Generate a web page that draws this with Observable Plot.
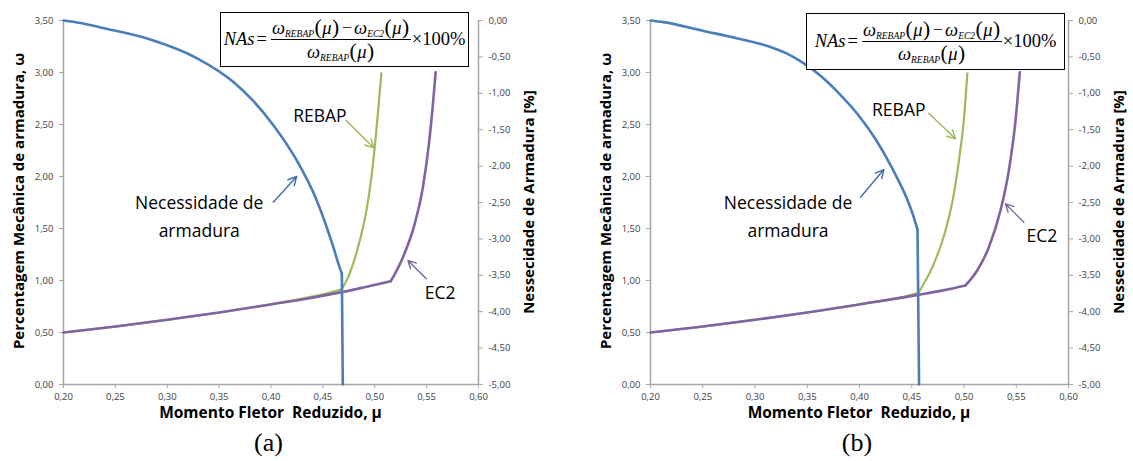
<!DOCTYPE html>
<html>
<head>
<meta charset="utf-8">
<script src="https://cdn.jsdelivr.net/npm/d3@7"></script>
<script src="https://cdn.jsdelivr.net/npm/@observablehq/plot@0.6"></script>
<style>
html,body{margin:0;padding:0;background:#fff;}
#page{position:relative;width:1133px;height:461px;overflow:hidden;font-family:"Open Sans",sans-serif;}
.panel{position:absolute;top:0;width:566px;height:461px;}
.panel svg{position:absolute;left:0;top:0;}
.lab{position:absolute;font-weight:bold;color:#000;white-space:nowrap;line-height:1;transform:translate(-50%,-50%);}
.rot{transform:translate(-50%,-50%) rotate(-90deg);}
.cap{position:absolute;font-family:"Liberation Serif","Times New Roman",serif;font-size:26px;color:#000;transform:translate(-50%,-50%);line-height:1;}
.formula{position:absolute;box-sizing:border-box;border:1.5px solid #000;background:#fff;display:flex;align-items:center;justify-content:center;font-family:"Liberation Serif","Times New Roman",serif;font-size:18.5px;color:#000;white-space:nowrap;}
.formula i{font-style:italic;}
.frac{display:inline-flex;flex-direction:column;align-items:center;margin:0 1px 0 2px;}
.num{border-bottom:1px solid #000;padding:0 1px;line-height:22px;}
.den{line-height:22px;}
.formula sub{font-size:9.5px;font-style:italic;vertical-align:-3px;line-height:0;}
.pp{font-size:21.5px;margin:0 0.5px;}
.op{margin:0 2px;}
</style>
</head>
<body>
<div id="page">
  <div class="panel" id="pa" style="left:0px"></div>
  <div class="panel" id="pb" style="left:567px"></div>
</div>
<script>
// ---- axes ----
const muTicks = [0.20, 0.25, 0.30, 0.35, 0.40, 0.45, 0.50, 0.55, 0.60];
const wTicks = [0, 0.5, 1.0, 1.5, 2.0, 2.5, 3.0, 3.5];
const nasTicks = [0, -0.5, -1.0, -1.5, -2.0, -2.5, -3.0, -3.5, -4.0, -4.5, -5.0];
const wDomain = [0, 3.5];
const nasDomain = [-5, 0];

// ---- panel (a) ----
const blueA_mu  = [0.2000, 0.2163, 0.2356, 0.2837, 0.3288, 0.3635, 0.3827, 0.4019, 0.4250, 0.4442, 0.4596, 0.4663, 0.4683, 0.4692];
const blueA_nas = [0.000, -0.034, -0.096, -0.261, -0.519, -0.841, -1.102, -1.431, -1.926, -2.475, -3.091, -3.398, -3.475, -5.000];
const greenA_mu = [0.20, 0.25, 0.30, 0.35, 0.40, 0.43, 0.45, 0.468, 0.4712, 0.4791, 0.4856, 0.4920, 0.4968, 0.5000, 0.5041, 0.5064];
const greenA_w  = [0.500, 0.557, 0.622, 0.692, 0.772, 0.826, 0.866, 0.915, 0.968, 1.160, 1.385, 1.673, 1.993, 2.282, 2.731, 2.993];
const purpleA_mu = [0.20, 0.25, 0.30, 0.35, 0.40, 0.43, 0.4683, 0.49, 0.5154, 0.5272, 0.5385, 0.5464, 0.5522, 0.5561, 0.5587];
const purpleA_w  = [0.500, 0.557, 0.622, 0.692, 0.770, 0.818, 0.888, 0.935, 0.993, 1.224, 1.545, 1.897, 2.314, 2.699, 3.003];
const kinksA = {blue: 12, green: 7, purple: 8};

// ---- panel (b) ----
const blueB_mu  = [0.2000, 0.2124, 0.2507, 0.2833, 0.3148, 0.3311, 0.3464, 0.3627, 0.3799, 0.3990, 0.4153, 0.4325, 0.4450, 0.4507, 0.4555, 0.4570];
const blueB_nas = [0.000, -0.022, -0.143, -0.246, -0.364, -0.458, -0.585, -0.758, -0.993, -1.301, -1.628, -2.063, -2.436, -2.650, -2.870, -5.000];
const greenB_mu = [0.20, 0.25, 0.30, 0.35, 0.40, 0.44, 0.4562, 0.4584, 0.4711, 0.4823, 0.4903, 0.4960, 0.4998, 0.5032];
const greenB_w  = [0.500, 0.557, 0.622, 0.692, 0.772, 0.838, 0.878, 0.915, 1.160, 1.480, 1.833, 2.218, 2.538, 2.993];
const purpleB_mu = [0.20, 0.25, 0.30, 0.35, 0.40, 0.4392, 0.4562, 0.48, 0.5014, 0.5126, 0.5238, 0.5349, 0.5429, 0.5493, 0.5534];
const purpleB_w  = [0.500, 0.557, 0.622, 0.692, 0.770, 0.833, 0.862, 0.905, 0.952, 1.096, 1.320, 1.673, 2.058, 2.538, 3.003];
const kinksB = {blue: 14, green: 6, purple: 8};

// ---- annotations (data coordinates: mu, omega) ----
const notesA = [
  {text: "Necessidade de\narmadura", mu: 0.3308, w: 1.635},
  {text: "REBAP", mu: 0.4471, w: 2.606},
  {text: "EC2", mu: 0.5630, w: 0.911}
];
const arrowsA = [
  {mu1: 0.4022, w1: 1.753, mu2: 0.4247, w2: 2.000, s: "blue"},
  {mu1: 0.4726, w1: 2.538, mu2: 0.4990, w2: 2.276, s: "green"},
  {mu1: 0.5497, w1: 1.016, mu2: 0.5320, w2: 1.192, s: "purple"}
];
const notesB = [
  {text: "Necessidade de\narmadura", mu: 0.3316, w: 1.638},
  {text: "REBAP", mu: 0.4376, w: 2.663},
  {text: "EC2", mu: 0.5746, w: 1.452}
];
const arrowsB = [
  {mu1: 0.4010, w1: 1.801, mu2: 0.4233, w2: 2.067, s: "blue"},
  {mu1: 0.4663, w1: 2.609, mu2: 0.4919, w2: 2.362, s: "green"},
  {mu1: 0.5572, w1: 1.561, mu2: 0.5397, w2: 1.737, s: "purple"}
];

const colors = {blue: "#4A7EBB", green: "#9BBB59", purple: "#8064A2"};
const arrowColors = {blue: "#3F6EA8", green: "#9BBB59", purple: "#7A62A0"};
const axisGray = "#A6A6A6";
const tickText = "#404040";

// secondary axis mapping (NAs % on right axis -> omega units of left axis)
const toW = nas => wDomain[0] + (nas - nasDomain[0]) / (nasDomain[1] - nasDomain[0]) * (wDomain[1] - wDomain[0]);
const toNas = w => nasDomain[0] + (w - wDomain[0]) / (wDomain[1] - wDomain[0]) * (nasDomain[1] - nasDomain[0]);
const fmt = d => (Math.abs(d) < 1e-9 ? 0 : d).toFixed(2).replace(".", ",");

function segs(mu, v, kink) {
  const out = [];
  mu.forEach((m, i) => {
    if (i <= kink) out.push({mu: m, v: v[i], seg: 0});
    if (i >= kink) out.push({mu: m, v: v[i], seg: 1});
  });
  return out;
}

function panel(el, cfg) {
  const blue = segs(cfg.blueMu, cfg.blueNas, cfg.kinks.blue);
  const green = segs(cfg.greenMu, cfg.greenW, cfg.kinks.green);
  const purple = segs(cfg.purpleMu, cfg.purpleW, cfg.kinks.purple);
  const chart = Plot.plot({
    width: 566, height: 461,
    marginLeft: cfg.ml, marginRight: cfg.mr, marginTop: 20, marginBottom: 77,
    x: {domain: [muTicks[0], muTicks[muTicks.length - 1]]},
    y: {domain: wDomain},
    style: {fontFamily: "'Open Sans', sans-serif", fontSize: "9.5px", background: "#fff"},
    marks: [
      Plot.ruleY([wDomain[0]], {stroke: axisGray, strokeWidth: 1.5}),
      Plot.ruleX([muTicks[0], muTicks[muTicks.length - 1]], {stroke: axisGray, strokeWidth: 1.5}),
      Plot.axisY({anchor: "left", ticks: wTicks, tickFormat: fmt, tickSize: 4, tickPadding: 6, stroke: axisGray, fill: tickText, label: null}),
      Plot.axisY({anchor: "right", ticks: nasTicks.map(toW), tickFormat: d => fmt(toNas(d)), tickSize: 4, tickPadding: 6, stroke: axisGray, fill: tickText, label: null}),
      Plot.axisX({ticks: muTicks, tickFormat: fmt, tickSize: 4, tickPadding: 5, stroke: axisGray, fill: tickText, label: null}),
      Plot.line(green, {x: "mu", y: "v", z: "seg", stroke: colors.green, strokeWidth: 2.2, curve: "monotone-x", strokeLinecap: "round"}),
      Plot.line(purple, {x: "mu", y: "v", z: "seg", stroke: colors.purple, strokeWidth: 2.6, curve: "monotone-x", strokeLinecap: "round"}),
      Plot.line(blue, {x: "mu", y: d => toW(d.v), z: "seg", stroke: colors.blue, strokeWidth: 2.6, curve: "monotone-x", strokeLinecap: "round"}),
      Plot.arrow(cfg.arrows, {x1: "mu1", y1: "w1", x2: "mu2", y2: "w2", stroke: d => arrowColors[d.s], strokeWidth: 1.4, headLength: 10, headAngle: 55}),
      Plot.text(cfg.notes, {x: "mu", y: "w", text: "text", fontSize: 17.5, fill: "#000", lineHeight: 1.58, fontFamily: "'Open Sans', sans-serif"})
    ]
  });
  el.appendChild(chart);
}

panel(document.getElementById("pa"), {
  ml: 63, mr: 88,
  blueMu: blueA_mu, blueNas: blueA_nas, greenMu: greenA_mu, greenW: greenA_w,
  purpleMu: purpleA_mu, purpleW: purpleA_w, kinks: kinksA, notes: notesA, arrows: arrowsA
});
panel(document.getElementById("pb"), {
  ml: 83, mr: 65,
  blueMu: blueB_mu, blueNas: blueB_nas, greenMu: greenB_mu, greenW: greenB_w,
  purpleMu: purpleB_mu, purpleW: purpleB_w, kinks: kinksB, notes: notesB, arrows: arrowsB
});

// ---- titles, captions, formula boxes ----
const formulaHTML = '<i>NAs</i><span class="op">=</span><span class="frac"><span class="num"><i>ω</i><sub>REBAP</sub><span class="pp">(</span><i>μ</i><span class="pp">)</span><span class="op">−</span><i>ω</i><sub>EC2</sub><span class="pp">(</span><i>μ</i><span class="pp">)</span></span><span class="den"><i>ω</i><sub>REBAP</sub><span class="pp">(</span><i>μ</i><span class="pp">)</span></span></span>×100%';
const overlays = [
  {id: "pa", fx: 270.5, ylx: 18, yrx: 528, cap: "(a)", capx: 268.5, box: [220, 12, 249, 55]},
  {id: "pb", fx: 292, ylx: 38, yrx: 551, cap: "(b)", capx: 290, box: [239, 13, 259, 57]}
];
overlays.forEach(o => {
  const p = document.getElementById(o.id);
  p.insertAdjacentHTML("beforeend",
    `<div class="lab" style="left:${o.fx}px;top:413px;font-size:15.5px">Momento Fletor&nbsp; Reduzido, μ</div>` +
    `<div class="lab rot" style="left:${o.ylx}px;top:201px;font-size:15px">Percentagem Mecânica de armadura, ω</div>` +
    `<div class="lab rot" style="left:${o.yrx}px;top:202px;font-size:15px">Nessecidade de Armadura [%]</div>` +
    `<div class="cap" style="left:${o.capx}px;top:443px">${o.cap}</div>` +
    `<div class="formula" style="left:${o.box[0]}px;top:${o.box[1]}px;width:${o.box[2]}px;height:${o.box[3]}px">${formulaHTML}</div>`);
});
</script>
</body>
</html>
